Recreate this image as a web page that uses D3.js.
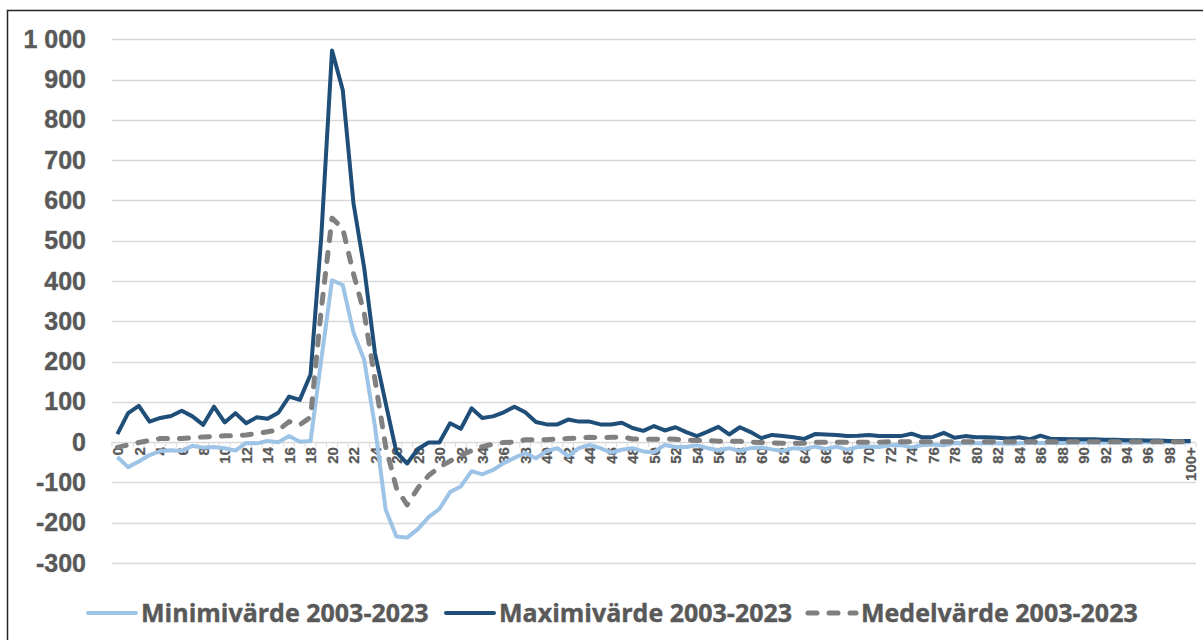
<!DOCTYPE html>
<html>
<head>
<meta charset="utf-8">
<script src="https://cdn.jsdelivr.net/npm/d3@7"></script>
<style>
  body { margin: 0; background: #fff; }
  svg { display: block; font-family: "Open Sans", "Liberation Sans", sans-serif; }
  .axis text { fill: #595959; font-weight: bold; stroke: #595959; stroke-width: 0.4px; }
  .axis path, .axis line { stroke: none; }
</style>
</head>
<body>
<svg id="chart" width="1203" height="640"></svg>
<script>
const ages = d3.range(100).map(String).concat(["100+"]);

const minValues = [
  -37, -62, -48, -32, -22, -20, -22, -9, -14, -12,
  -15, -21, -2, -3, 3, 0, 15, 1, 3, 205,
  402, 390, 272, 204, 39, -168, -234, -237, -216, -186,
  -166, -124, -110, -72, -80, -69, -52, -39, -27, -40,
  -22, -15, -35, -15, -7, -15, -26, -19, -15, -23,
  -25, -7, -12, -12, -8, -15, -20, -15, -22, -15,
  -13, -18, -22, -15, -17, -11, -17, -11, -19, -12,
  -11, -12, -8, -7, -13, -7, -6, -8, -2, -3,
  -3, -2, -3, -4, -3, -2, -2, -2, -2, -1,
  -1, -1, -1, -1, -1, -1, 0, 0, 0, 0,
  0
];

const maxValues = [
  20, 72, 90, 51, 60, 65, 78, 64, 43, 88,
  49, 72, 47, 62, 58, 73, 113, 105, 168, 510,
  972, 874, 593, 432, 221, 97, -25, -53, -17, -1,
  -1, 47, 33, 84, 60, 64, 74, 88, 74, 50,
  44, 44, 56, 51, 51, 44, 44, 48, 35, 28,
  40, 29, 37, 25, 15, 26, 38, 19, 37, 25,
  10, 18, 15, 12, 8, 20, 19, 18, 15, 16,
  18, 15, 15, 15, 21, 12, 13, 23, 11, 15,
  12, 12, 11, 9, 12, 7, 16, 8, 8, 7,
  7, 7, 6, 6, 5, 5, 4, 4, 3, 3,
  3
];

const meanValues = [
  -13, -7, -1, 4, 9, 9, 9, 11, 13, 14,
  16, 16, 18, 21, 26, 30, 51, 43, 62, 330,
  556, 530, 418, 320, 155, -11, -114, -156, -114, -83,
  -62, -47, -33, -21, -11, -5, -1, 0, 6, 6,
  6, 8, 9, 10, 12, 11, 12, 13, 8, 7,
  7, 8, 7, 5, 4, 4, 2, 2, 2, 0,
  -1, -2, -3, -3, -3, 0, 0, 0, 0, 0,
  0, 0, 1, 1, 1, 1, 1, 1, 1, 1,
  1, 1, 1, 1, 1, 1, 1, 1, 1, 1,
  1, 1, 1, 1, 1, 1, 1, 1, 1, 1,
  1
];

const yTicks = [-300, -200, -100, 0, 100, 200, 300, 400, 500, 600, 700, 800, 900, 1000];

const seriesNames = ["Minimivärde 2003-2023", "Maximivärde 2003-2023", "Medelvärde 2003-2023"];

const svg = d3.select("#chart");

// frame around the chart (cropped on the right and bottom in the original)
svg.append("rect")
  .attr("x", 7.5).attr("y", 10.5)
  .attr("width", 1210).attr("height", 650)
  .attr("fill", "none").attr("stroke", "#262626").attr("stroke-width", 1.5);

const x = d3.scalePoint().domain(ages).range([112, 1196]).padding(0.5);
const y = d3.scaleLinear().domain([-300, 1000]).range([563, 39.3]);

const locale = d3.formatLocale({ decimal: ",", thousands: " ", grouping: [3], currency: ["", ""], minus: "-" });
const fmt = locale.format(",d");

// horizontal gridlines
svg.append("g")
  .selectAll("line")
  .data(yTicks)
  .join("line")
  .attr("x1", 112).attr("x2", 1196)
  .attr("y1", d => Math.round(y(d)) + 0.5)
  .attr("y2", d => Math.round(y(d)) + 0.5)
  .attr("stroke", "#d9d9d9")
  .attr("stroke-width", 1.3);

// y axis labels
const yAxis = d3.axisLeft(y).tickValues(yTicks).tickFormat(fmt).tickSize(0).tickPadding(0);
svg.append("g")
  .attr("class", "axis")
  .attr("transform", "translate(86,0)")
  .call(yAxis)
  .selectAll("text")
  .style("font-size", "25px");

// small tick marks on the zero line, between categories
const step = x.step();
svg.append("g")
  .selectAll("line")
  .data(ages.concat(["end"]))
  .join("line")
  .attr("x1", (d, i) => 112 + i * step)
  .attr("x2", (d, i) => 112 + i * step)
  .attr("y1", y(0))
  .attr("y2", y(0) + 5)
  .attr("stroke", "#d9d9d9")
  .attr("stroke-width", 1);

// x axis labels, every second age, rotated
const xAxis = d3.axisBottom(x).tickValues(ages.filter((d, i) => i % 2 === 0)).tickSize(0).tickPadding(0);
svg.append("g")
  .attr("class", "axis")
  .attr("transform", `translate(0,${y(0)})`)
  .call(xAxis)
  .selectAll("text")
  .style("font-size", "15px")
  .style("stroke-width", "0.25px")
  .attr("text-anchor", "end")
  .attr("dy", "0.35em")
  .attr("transform", "translate(0,5) rotate(-90)")
  .attr("y", 0)
  .attr("x", 0);

const line = d3.line().x((d, i) => x(ages[i])).y(d => y(d));

svg.append("path")
  .datum(minValues)
  .attr("d", line)
  .attr("fill", "none")
  .attr("stroke", "#9dc3e6")
  .attr("stroke-width", 4)
  .attr("stroke-linejoin", "round");

svg.append("path")
  .datum(maxValues)
  .attr("d", line)
  .attr("fill", "none")
  .attr("stroke", "#1f4e79")
  .attr("stroke-width", 4)
  .attr("stroke-linejoin", "round");

svg.append("path")
  .datum(meanValues)
  .attr("d", line)
  .attr("fill", "none")
  .attr("stroke", "#808080")
  .attr("stroke-width", 5)
  .attr("stroke-dasharray", "9,12")
  .attr("stroke-linecap", "round")
  .attr("stroke-linejoin", "round");

// legend
const legendItems = [
  { name: seriesNames[0], color: "#9dc3e6", width: 4, dash: null, x: 88 },
  { name: seriesNames[1], color: "#1f4e79", width: 4, dash: null, x: 446 },
  { name: seriesNames[2], color: "#808080", width: 5, dash: "9,12", x: 808 }
];

const legend = svg.append("g").attr("transform", "translate(0,613)");
const item = legend.selectAll("g")
  .data(legendItems)
  .join("g")
  .attr("transform", d => `translate(${d.x},0)`);

item.append("line")
  .attr("x1", 0).attr("x2", 48)
  .attr("stroke", d => d.color)
  .attr("stroke-width", d => d.width)
  .attr("stroke-dasharray", d => d.dash)
  .attr("stroke-linecap", "round");

item.append("text")
  .attr("x", 53)
  .attr("dy", "0.36em")
  .attr("fill", "#595959")
  .attr("stroke", "#595959")
  .attr("stroke-width", 0.4)
  .style("font-size", "25px")
  .style("font-weight", "bold")
  .text(d => d.name);
</script>
</body>
</html>
